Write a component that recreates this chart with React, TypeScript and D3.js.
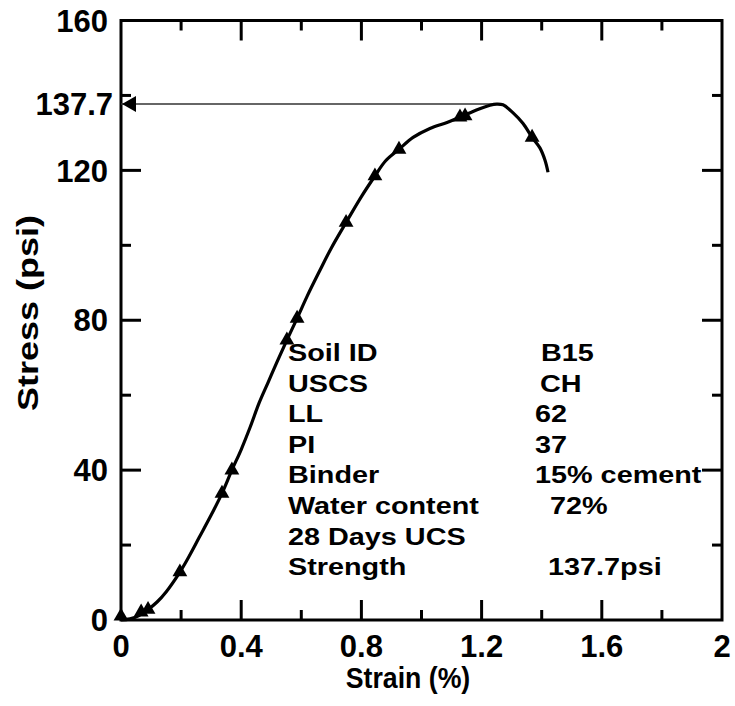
import React from "react";
import * as d3 from "d3";

// Stress–strain record of the cement-treated soil specimen
const strain = [
  0, 0.03, 0.06, 0.09, 0.12, 0.15, 0.196, 0.23, 0.26, 0.3, 0.336, 0.369, 0.4,
  0.43, 0.46, 0.49, 0.52, 0.552, 0.586, 0.62, 0.66, 0.7, 0.749, 0.8, 0.845,
  0.88, 0.925, 0.972, 1.028, 1.085, 1.128, 1.185, 1.228, 1.25, 1.271, 1.304,
  1.338, 1.368, 1.394, 1.411, 1.421,
];
const stress = [
  0, 0.3, 1.2, 2.8, 4.8, 7.5, 12.8, 17.5, 22, 28, 33.8, 40, 45.5, 51.5, 58,
  63.5, 69, 74.7, 80.5, 86.5, 93, 99.3, 106.1, 113, 118.5, 122.5, 125.6,
  128.8, 131.2, 132.8, 134.2, 136.2, 137.4, 137.7, 137.5, 135.4, 132.5,
  128.8, 126, 122.7, 119.5,
];

// Recorded readings shown as triangles
const markerStrain = [
  0, 0.067, 0.09, 0.196, 0.336, 0.369, 0.552, 0.586, 0.749, 0.845, 0.925,
  1.128, 1.145, 1.368,
];
const markerStress = [
  1, 2.1, 2.8, 12.8, 33.8, 40, 74.7, 80.5, 106.1, 118.5, 125.6, 134.2, 134.5,
  128.8,
];

const peakStress = 137.7;
const peakStrain = 1.25;

const xTicks = [0, 0.4, 0.8, 1.2, 1.6, 2];
const xMinor = [0.2, 0.6, 1.0, 1.4, 1.8];
const yTicks = [0, 40, 80, 120, 160];
const yMinor = [20, 60, 100, 140];

const infoLabels = [
  "Soil ID",
  "USCS",
  "LL",
  "PI",
  "Binder",
  "Water content",
  "28 Days UCS",
  "Strength",
];
const infoValues = ["B15", "CH", "62", "37", "15% cement", "72%", "", "137.7psi"];

const W = 735;
const H = 706;
const left = 121;
const right = 722;
const top = 20.5;
const bottom = 620;

const FONT = "'Liberation Sans', Arial, Helvetica, sans-serif";

export default function App() {
  const x = d3.scaleLinear().domain([0, 2]).range([left, right]);
  const y = d3.scaleLinear().domain([0, 160]).range([bottom, top]);

  const line = d3
    .line<number>()
    .x((_, i) => x(strain[i]))
    .y((d) => y(d))
    .curve(d3.curveCatmullRom.alpha(0.5));

  const tri = d3.symbol().type(d3.symbolTriangle).size(95)();

  const valueX = [541, 540, 535, 535, 535, 550, 535, 548];
  const rowY0 = 361;
  const rowStep = 30.6;
  const infoScaleX = 1.2;

  const major = 20;
  const minor = 10;

  const py = y(peakStress);

  return (
    <div style={{ position: "absolute", left: 0, top: 0 }}>
      <svg width={W} height={H} style={{ display: "block", background: "#fff" }}>
        <g stroke="#000" strokeWidth={3} fill="none">
          <rect x={left} y={top} width={right - left} height={bottom - top} />
          {xTicks.slice(1, -1).map((t) => (
            <g key={"xm" + t}>
              <line x1={x(t)} x2={x(t)} y1={bottom} y2={bottom - major} />
              <line x1={x(t)} x2={x(t)} y1={top} y2={top + major} />
            </g>
          ))}
          {xMinor.map((t) => (
            <g key={"xn" + t}>
              <line x1={x(t)} x2={x(t)} y1={bottom} y2={bottom - minor} />
              <line x1={x(t)} x2={x(t)} y1={top} y2={top + minor} />
            </g>
          ))}
          {yTicks.slice(1, -1).map((t) => (
            <g key={"ym" + t}>
              <line x1={left} x2={left + major} y1={y(t)} y2={y(t)} />
              <line x1={right} x2={right - major} y1={y(t)} y2={y(t)} />
            </g>
          ))}
          {yMinor.map((t) => (
            <g key={"yn" + t}>
              <line x1={left} x2={left + minor} y1={y(t)} y2={y(t)} />
              <line x1={right} x2={right - minor} y1={y(t)} y2={y(t)} />
            </g>
          ))}
        </g>

        {/* peak stress guide with arrowhead at the stress axis */}
        <line
          x1={left}
          x2={x(peakStrain)}
          y1={py}
          y2={py}
          stroke="#333"
          strokeWidth={1.6}
        />
        <path
          d={`M${left + 1},${py} L${left + 15},${py - 8} L${left + 15},${py + 8} Z`}
          fill="#000"
        />

        <path d={line(stress) || ""} fill="none" stroke="#000" strokeWidth={3.2} />

        {markerStrain.map((s, i) => (
          <path
            key={"m" + i}
            d={tri || ""}
            transform={`translate(${x(s)},${y(markerStress[i])})`}
            fill="#000"
          />
        ))}

        <g fontFamily={FONT} fontWeight="bold" fill="#000" fontSize={31}>
          {xTicks.map((t) => (
            <text key={"xl" + t} x={x(t)} y={657} textAnchor="middle">
              {String(t)}
            </text>
          ))}
          {yTicks.map((t) => (
            <text key={"yl" + t} x={108} y={y(t)} dy="0.36em" textAnchor="end">
              {String(t)}
            </text>
          ))}
          <text x={113} y={py} dy="0.36em" textAnchor="end">
            {String(peakStress)}
          </text>
        </g>

        <g fontFamily={FONT} fontWeight="bold" fill="#000" fontSize={30}>
          <text transform="translate(408,688) scale(0.89,1)" textAnchor="middle">
            Strain (%)
          </text>
          <text transform="translate(38,313) rotate(-90) scale(1.2,1)" textAnchor="middle">
            Stress (psi)
          </text>
        </g>

        <g fontFamily={FONT} fontWeight="bold" fill="#000" fontSize={24}>
          {infoLabels.map((lab, i) => (
            <text
              key={"il" + i}
              transform={`translate(288,${rowY0 + i * rowStep}) scale(${infoScaleX},1)`}
            >
              {lab}
            </text>
          ))}
          {infoValues.map((v, i) =>
            v ? (
              <text
                key={"iv" + i}
                transform={`translate(${valueX[i]},${rowY0 + i * rowStep}) scale(${infoScaleX},1)`}
              >
                {v}
              </text>
            ) : null
          )}
        </g>
      </svg>
    </div>
  );
}
